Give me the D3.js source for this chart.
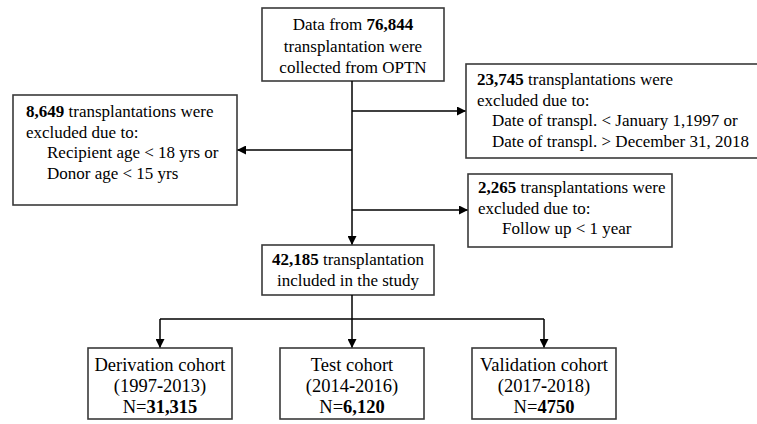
<!DOCTYPE html>
<html>
<head>
<meta charset="utf-8">
<script src="https://cdn.jsdelivr.net/npm/d3@7"></script>
<style>
  body { margin: 0; background: #fff; }
  svg text { font-family: "Liberation Serif", "Times New Roman", serif; font-size: 17px; fill: #000; }
</style>
</head>
<body>
<div id="chart"></div>
<script>
// Counts shown in the flow boxes.
var totalCount = '76,844';
var excludeCounts = ['23,745', '8,649', '2,265'];
var includedCount = '42,185';

// Exclusion reasons (one list per exclusion box).
var excludeReasons = [
  ['Date of transpl. < January 1,1997 or', 'Date of transpl. > December 31, 2018'],
  ['Recipient age < 18 yrs or', 'Donor age < 15 yrs'],
  ['Follow up < 1 year']
];

// Final cohorts.
var cohortNames = ['Derivation cohort', 'Test cohort', 'Validation cohort'];
var cohortStart = ['1997', '2014', '2017'];
var cohortEnd = ['2013', '2016', '2018'];
var cohortN = ['31,315', '6,120', '4750'];


var W = 757, H = 424;
var svg = d3.select('#chart').append('svg')
    .attr('width', W)
    .attr('height', H);

svg.append('defs').append('marker')
    .attr('id', 'arrow')
    .attr('viewBox', '0 0 10 10')
    .attr('refX', 10)
    .attr('refY', 5)
    .attr('markerWidth', 10)
    .attr('markerHeight', 9)
    .attr('markerUnits', 'userSpaceOnUse')
    .attr('orient', 'auto')
  .append('path')
    .attr('d', 'M0,0 L10,5 L0,10 Z')
    .attr('fill', '#000');

var mainX = 352;

// Box with lines of text; each line is a list of [text, bold] pieces.
function box(x, y, w, h, lines, opt) {
  opt = opt || {};
  var g = svg.append('g');
  g.append('rect')
      .attr('x', x).attr('y', y)
      .attr('width', w).attr('height', h)
      .attr('fill', '#fff')
      .attr('stroke', '#3a3a3a')
      .attr('stroke-width', 1.6);
  var t = g.selectAll('text').data(lines).enter().append('text')
      .attr('x', function(d) {
        if (opt.center) return x + w / 2;
        return x + opt.padX + (d.indent ? opt.indent : 0);
      })
      .attr('y', function(d, i) { return y + opt.firstY + i * opt.lineH; })
      .attr('text-anchor', opt.center ? 'middle' : 'start')
      .style('font-size', opt.size ? opt.size + 'px' : null);
  t.selectAll('tspan').data(function(d) { return d.parts; }).enter().append('tspan')
      .style('font-weight', function(d) { return d[1] ? 'bold' : 'normal'; })
      .text(function(d) { return d[0]; });
}

function arrow(x1, y1, x2, y2, head) {
  var l = svg.append('line')
      .attr('x1', x1).attr('y1', y1)
      .attr('x2', x2).attr('y2', y2)
      .attr('stroke', '#000')
      .attr('stroke-width', 1.5);
  if (head !== false) l.attr('marker-end', 'url(#arrow)');
}

function exclusionLines(i) {
  var lines = [
    {parts: [[excludeCounts[i], true], [' transplantations were', false]]},
    {parts: [['excluded due to:', false]]}
  ];
  excludeReasons[i].forEach(function(r) {
    lines.push({parts: [[r, false]], indent: true});
  });
  return lines;
}

// Top box.
box(262, 8, 182, 73, [
  {parts: [['Data from ', false], [totalCount, true]]},
  {parts: [['transplantation were', false]]},
  {parts: [['collected from OPTN', false]]}
], {center: true, firstY: 22, lineH: 21.5});

// Main trunk and side arrows.
arrow(mainX, 81, mainX, 245);
arrow(mainX, 111, 466, 111);
arrow(mainX, 150, 237, 150);
arrow(mainX, 210, 468, 210);

// Exclusion boxes.
box(466, 64, 295, 94, exclusionLines(0), {padX: 11, indent: 15, firstY: 21, lineH: 20.5});
box(13, 95, 224, 110, exclusionLines(1), {padX: 13, indent: 21, firstY: 22, lineH: 20.5});
box(468, 174, 204, 73, exclusionLines(2), {padX: 10, indent: 24, firstY: 19, lineH: 20.5});

// Included box.
box(262, 245, 172, 50, [
  {parts: [[includedCount, true], [' transplantation', false]]},
  {parts: [['included in the study', false]]}
], {center: true, firstY: 20, lineH: 21});

// Cohorts.
var xBand = d3.scaleBand()
    .domain(cohortNames)
    .range([88, 616])
    .paddingInner(0.25);
var branchY = 319, cohortTop = 348;

arrow(mainX, 295, mainX, branchY, false);
arrow(xBand(cohortNames[0]) + xBand.bandwidth() / 2, branchY,
      xBand(cohortNames[2]) + xBand.bandwidth() / 2, branchY, false);

cohortNames.forEach(function(name, i) {
  var cx = xBand(name) + xBand.bandwidth() / 2;
  arrow(cx, branchY, cx, cohortTop);
  box(xBand(name), cohortTop, xBand.bandwidth(), 71, [
    {parts: [[name, false]]},
    {parts: [['(' + cohortStart[i], false], ['-', true], [cohortEnd[i] + ')', false]]},
    {parts: [['N=', false], [cohortN[i], true]]}
  ], {center: true, firstY: 23, lineH: 21, size: 18.5});
});
</script>
</body>
</html>
